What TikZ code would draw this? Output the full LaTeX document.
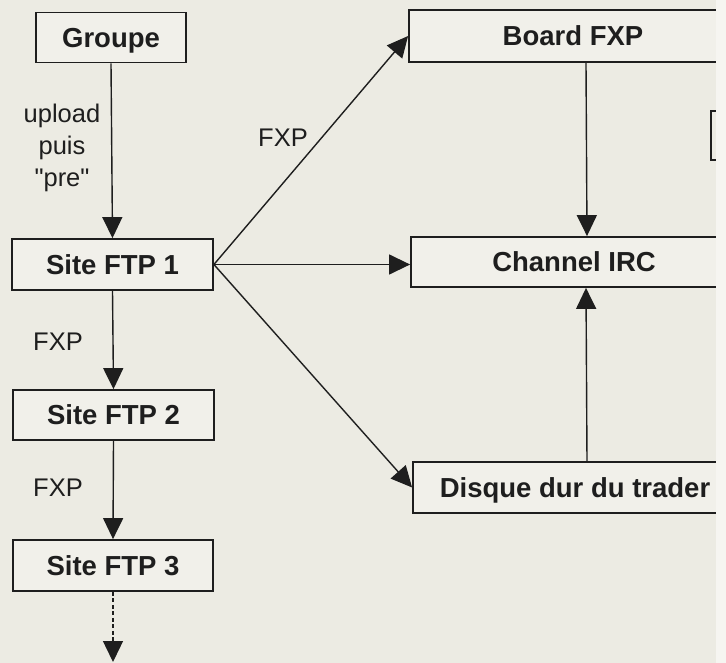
\documentclass[tikz,border=0pt]{standalone}
\usepackage{fontspec}
\setmainfont{Liberation Sans}[Ligatures=TeXOff]
\usetikzlibrary{arrows.meta}
\definecolor{paper}{HTML}{ECEBE3}
\definecolor{boxfill}{HTML}{F1F0EA}
\definecolor{edge}{HTML}{F6F5F1}
\definecolor{ink}{HTML}{1E1E1E}
\begin{document}
\begin{tikzpicture}[x=1pt,y=-1pt,
  box/.style={draw=ink, line width=1.8pt, fill=boxfill, text=ink,
    font=\bfseries\fontsize{27.5}{30}\selectfont, inner sep=0pt,
    text height=19.6pt, text depth=0pt},
  conn/.style={draw=ink, line width=1.4pt, -{Triangle[length=21pt,width=20pt]}},
  lbl/.style={font=\fontsize{25.5}{32}\selectfont, text=ink, align=center, inner sep=0pt}]
\fill[paper] (0,0) rectangle (726,663);
\useasboundingbox (0,0) rectangle (726,663);
\begin{scope}
\clip (0,0) rectangle (716,663);
% left column
\node[box, minimum width=150pt, minimum height=50pt] (groupe) at (111,37.5) {Groupe};
\node[box, minimum width=201pt, minimum height=51pt] (ftp1) at (112.5,264.5) {Site FTP 1};
\node[box, minimum width=201pt, minimum height=50pt] (ftp2) at (113.5,415) {Site FTP 2};
\node[box, minimum width=200pt, minimum height=51pt] (ftp3) at (113,565.5) {Site FTP 3};
% right column
\node[box, minimum width=328pt, minimum height=52pt] (board) at (573,36) {Board FXP};
\node[box, minimum width=326pt, minimum height=50pt] (irc) at (574,262) {Channel IRC};
\node[box, minimum width=324pt, minimum height=51pt] (disque) at (575,487.5) {Disque dur du trader};
% partially visible box at the right edge
\draw[ink, line width=1.5pt] (718,111) -- (711,111) -- (711,160) -- (718,160);
% connectors
\draw[conn] (groupe.south) -- (ftp1.north);
\draw[conn] (ftp1.south) -- (ftp2.north);
\draw[conn] (ftp2.south) -- (ftp3.north);
\coordinate (bottom) at (113,662);
\draw[conn, dash pattern=on 4pt off 2.5pt] (ftp3.south) -- (bottom);
\draw[conn] (ftp1.east) -- (board.west);
\draw[conn] (ftp1.east) -- (ftp1.east -| irc.west);
\draw[conn] (ftp1.east) -- (disque.west);
\draw[conn] ([xshift=13pt]board.south) -- ([xshift=13pt]irc.north);
\draw[conn] ([xshift=12pt]disque.north) -- ([xshift=12pt]irc.south);
% labels
\node[lbl] (lup) at (62,148) {upload\\puis\\"pre"};
\node[lbl] (lfxp1) at (58,342) {FXP};
\node[lbl] (lfxp2) at (58,488) {FXP};
\node[lbl] (lfxp3) at (283,138) {FXP};
\end{scope}
\fill[edge] (716,0) rectangle (726,663);
\end{tikzpicture}
\end{document}
